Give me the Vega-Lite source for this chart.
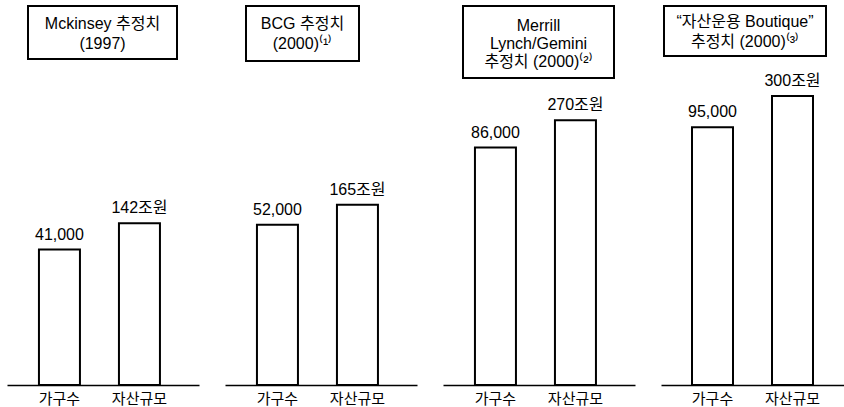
{
  "$schema": "https://vega.github.io/schema/vega-lite/v6.json",
  "padding": {"left": 7, "top": 5, "right": 0, "bottom": 0},
  "background": "white",
  "config": {
    "view": {"stroke": null},
    "font": "Liberation Sans, Noto Sans CJK KR, sans-serif",
    "text": {"font": "Liberation Sans, Noto Sans CJK KR, sans-serif", "color": "black"},
    "axisX": {
      "domainColor": "black", "domainWidth": 1.6, "ticks": false, "grid": false,
      "labelFontSize": 15, "labelColor": "black", "labelPadding": 6, "labelAngle": 0,
      "labelFont": "Liberation Sans, Noto Sans CJK KR, sans-serif", "title": null
    }
  },
  "data": {
    "values": [
      {"panel": "p1", "measure": "가구수", "value": 41000, "label": "41,000"},
      {"panel": "p1", "measure": "자산규모", "value": 142, "label": "142조원"},
      {"panel": "p2", "measure": "가구수", "value": 52000, "label": "52,000"},
      {"panel": "p2", "measure": "자산규모", "value": 165, "label": "165조원"},
      {"panel": "p3", "measure": "가구수", "value": 86000, "label": "86,000"},
      {"panel": "p3", "measure": "자산규모", "value": 270, "label": "270조원"},
      {"panel": "p4", "measure": "가구수", "value": 95000, "label": "95,000"},
      {"panel": "p4", "measure": "자산규모", "value": 300, "label": "300조원"}
    ]
  },
  "spacing": 26,
  "hconcat": [
    {
      "vconcat": [
        {
          "spacing": 0,
          "hconcat": [
            {"width": 20, "height": 10, "data": {"values": []}, "mark": "point"},
            {
              "width": 149, "height": 53,
              "data": {"values": [{}]},
              "view": {"stroke": "black", "strokeWidth": 2},
              "mark": {"type": "text", "fontSize": 16, "lineHeight": 20, "baseline": "middle", "align": "center", "dy": -9},
              "encoding": {"text": {"value": ["Mckinsey 추정치", "(1997)"]}}
            }
          ]
        },
        {
          "width": 192, "height": 303,
          "transform": [{"filter": "datum.panel === 'p1'"}],
          "encoding": {"x": {"field": "measure", "type": "nominal", "scale": {"domain": ["가구수", "자산규모"], "paddingInner": 0.4875, "paddingOuter": 0.44375, "align": 0.45}}},
          "layer": [
            {
              "transform": [{"filter": "datum.measure === '가구수'"}],
              "encoding": {"y": {"field": "value", "type": "quantitative", "scale": {"domain": [-18700, 114900], "nice": false, "zero": false}, "axis": null}},
              "layer": [
                {"mark": {"type": "bar", "fill": "white", "stroke": "black", "strokeWidth": 2}, "encoding": {"y2": {"datum": -18700}}},
                {"mark": {"type": "text", "fontSize": 16, "baseline": "alphabetic", "dy": -10}, "encoding": {"text": {"field": "label"}}}
              ]
            },
            {
              "transform": [{"filter": "datum.measure === '자산규모'"}],
              "encoding": {"y": {"field": "value", "type": "quantitative", "scale": {"domain": [-59, 317.4], "nice": false, "zero": false}, "axis": null}},
              "layer": [
                {"mark": {"type": "bar", "fill": "white", "stroke": "black", "strokeWidth": 2}, "encoding": {"y2": {"datum": -59}}},
                {"mark": {"type": "text", "fontSize": 16, "baseline": "alphabetic", "dy": -10}, "encoding": {"text": {"field": "label"}}}
              ]
            }
          ],
          "resolve": {"scale": {"y": "independent"}}
        }
      ],
      "spacing": 22
    },
    {
      "vconcat": [
        {
          "spacing": 0,
          "hconcat": [
            {"width": 20, "height": 10, "data": {"values": []}, "mark": "point"},
            {
              "width": 113, "height": 55,
              "data": {"values": [{}]},
              "view": {"stroke": "black", "strokeWidth": 2},
              "mark": {"type": "text", "fontSize": 16, "lineHeight": 20, "baseline": "middle", "align": "center", "dy": -10},
              "encoding": {"text": {"value": ["BCG 추정치", "(2000)⁽¹⁾"]}}
            }
          ]
        },
        {
          "width": 192, "height": 303,
          "transform": [{"filter": "datum.panel === 'p2'"}],
          "encoding": {"x": {"field": "measure", "type": "nominal", "scale": {"domain": ["가구수", "자산규모"], "paddingInner": 0.4875, "paddingOuter": 0.44375, "align": 0.45}}},
          "layer": [
            {
              "transform": [{"filter": "datum.measure === '가구수'"}],
              "encoding": {"y": {"field": "value", "type": "quantitative", "scale": {"domain": [-18700, 114900], "nice": false, "zero": false}, "axis": null}},
              "layer": [
                {"mark": {"type": "bar", "fill": "white", "stroke": "black", "strokeWidth": 2}, "encoding": {"y2": {"datum": -18700}}},
                {"mark": {"type": "text", "fontSize": 16, "baseline": "alphabetic", "dy": -10}, "encoding": {"text": {"field": "label"}}}
              ]
            },
            {
              "transform": [{"filter": "datum.measure === '자산규모'"}],
              "encoding": {"y": {"field": "value", "type": "quantitative", "scale": {"domain": [-59, 317.4], "nice": false, "zero": false}, "axis": null}},
              "layer": [
                {"mark": {"type": "bar", "fill": "white", "stroke": "black", "strokeWidth": 2}, "encoding": {"y2": {"datum": -59}}},
                {"mark": {"type": "text", "fontSize": 16, "baseline": "alphabetic", "dy": -10}, "encoding": {"text": {"field": "label"}}}
              ]
            }
          ],
          "resolve": {"scale": {"y": "independent"}}
        }
      ],
      "spacing": 20
    },
    {
      "vconcat": [
        {
          "spacing": 0,
          "hconcat": [
            {"width": 19, "height": 10, "data": {"values": []}, "mark": "point"},
            {
              "width": 151, "height": 72,
              "data": {"values": [{}]},
              "view": {"stroke": "black", "strokeWidth": 2},
              "mark": {"type": "text", "fontSize": 16, "lineHeight": 18, "baseline": "middle", "align": "center", "dy": -16},
              "encoding": {"text": {"value": ["Merrill", "Lynch/Gemini", "추정치 (2000)⁽²⁾"]}}
            }
          ]
        },
        {
          "width": 192, "height": 303,
          "transform": [{"filter": "datum.panel === 'p3'"}],
          "encoding": {"x": {"field": "measure", "type": "nominal", "scale": {"domain": ["가구수", "자산규모"], "paddingInner": 0.4875, "paddingOuter": 0.44375, "align": 0.45}}},
          "layer": [
            {
              "transform": [{"filter": "datum.measure === '가구수'"}],
              "encoding": {"y": {"field": "value", "type": "quantitative", "scale": {"domain": [-18700, 114900], "nice": false, "zero": false}, "axis": null}},
              "layer": [
                {"mark": {"type": "bar", "fill": "white", "stroke": "black", "strokeWidth": 2}, "encoding": {"y2": {"datum": -18700}}},
                {"mark": {"type": "text", "fontSize": 16, "baseline": "alphabetic", "dy": -10}, "encoding": {"text": {"field": "label"}}}
              ]
            },
            {
              "transform": [{"filter": "datum.measure === '자산규모'"}],
              "encoding": {"y": {"field": "value", "type": "quantitative", "scale": {"domain": [-59, 317.4], "nice": false, "zero": false}, "axis": null}},
              "layer": [
                {"mark": {"type": "bar", "fill": "white", "stroke": "black", "strokeWidth": 2}, "encoding": {"y2": {"datum": -59}}},
                {"mark": {"type": "text", "fontSize": 16, "baseline": "alphabetic", "dy": -10}, "encoding": {"text": {"field": "label"}}}
              ]
            }
          ],
          "resolve": {"scale": {"y": "independent"}}
        }
      ],
      "spacing": 3
    },
    {
      "vconcat": [
        {
          "spacing": 0,
          "hconcat": [
            {"width": 2, "height": 10, "data": {"values": []}, "mark": "point"},
            {
              "width": 162, "height": 50,
              "data": {"values": [{}]},
              "view": {"stroke": "black", "strokeWidth": 2},
              "mark": {"type": "text", "fontSize": 16, "lineHeight": 20, "baseline": "middle", "align": "center", "dy": -9},
              "encoding": {"text": {"value": ["“자산운용 Boutique”", "추정치 (2000)⁽³⁾"]}}
            }
          ]
        },
        {
          "width": 183, "height": 303,
          "transform": [{"filter": "datum.panel === 'p4'"}],
          "encoding": {"x": {"field": "measure", "type": "nominal", "scale": {"domain": ["가구수", "자산규모"], "paddingInner": 0.4875, "paddingOuter": 0.3875, "align": 0.5}}},
          "layer": [
            {
              "transform": [{"filter": "datum.measure === '가구수'"}],
              "encoding": {"y": {"field": "value", "type": "quantitative", "scale": {"domain": [-18700, 114900], "nice": false, "zero": false}, "axis": null}},
              "layer": [
                {"mark": {"type": "bar", "fill": "white", "stroke": "black", "strokeWidth": 2}, "encoding": {"y2": {"datum": -18700}}},
                {"mark": {"type": "text", "fontSize": 16, "baseline": "alphabetic", "dy": -10}, "encoding": {"text": {"field": "label"}}}
              ]
            },
            {
              "transform": [{"filter": "datum.measure === '자산규모'"}],
              "encoding": {"y": {"field": "value", "type": "quantitative", "scale": {"domain": [-59, 317.4], "nice": false, "zero": false}, "axis": null}},
              "layer": [
                {"mark": {"type": "bar", "fill": "white", "stroke": "black", "strokeWidth": 2}, "encoding": {"y2": {"datum": -59}}},
                {"mark": {"type": "text", "fontSize": 16, "baseline": "alphabetic", "dy": -10}, "encoding": {"text": {"field": "label"}}}
              ]
            }
          ],
          "resolve": {"scale": {"y": "independent"}}
        }
      ],
      "spacing": 16
    }
  ]
}
